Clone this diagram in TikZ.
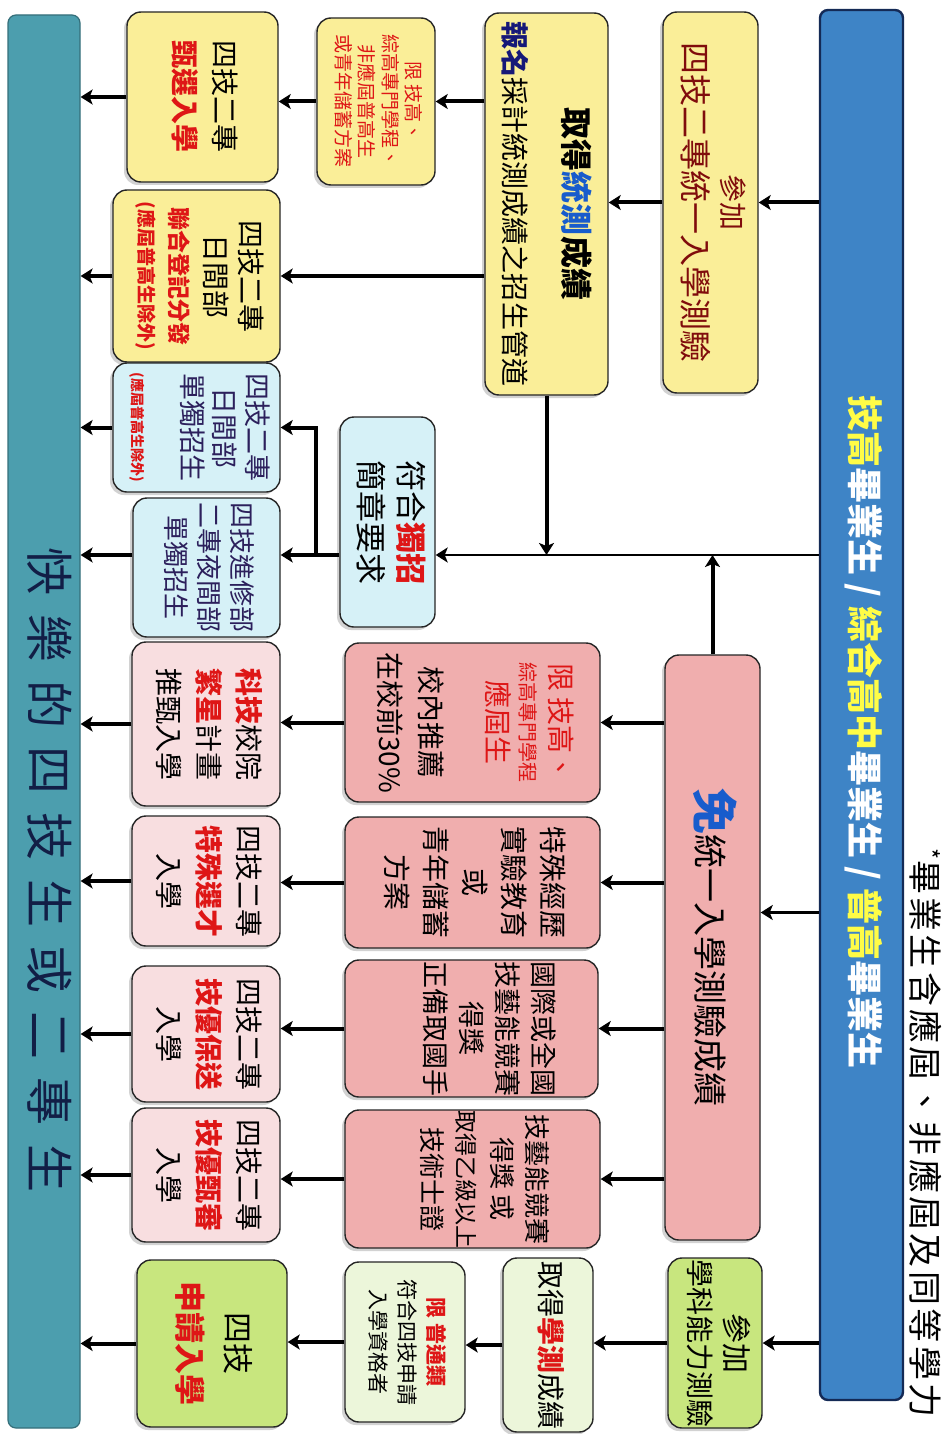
\documentclass[tikz,border=0pt]{standalone}
\usepackage{fontspec}
\setmainfont{Noto Sans CJK TC}
\usepackage{graphicx}
\usetikzlibrary{arrows.meta,shadows}

\definecolor{barblue}{RGB}{62,132,198}
\definecolor{barteal}{RGB}{76,158,174}
\definecolor{boxyellow}{RGB}{250,238,152}
\definecolor{boxcyan}{RGB}{214,241,247}
\definecolor{boxpink}{RGB}{240,174,174}
\definecolor{boxrose}{RGB}{248,222,224}
\definecolor{boxgreen}{RGB}{200,230,126}
\definecolor{boxmint}{RGB}{236,246,218}
\definecolor{txtred}{RGB}{222,22,22}
\definecolor{txtdark}{RGB}{128,12,12}
\definecolor{txtnavy}{RGB}{22,24,120}
\definecolor{txtplum}{RGB}{44,32,92}
\definecolor{txtyel}{RGB}{255,252,70}
\definecolor{txtblue}{RGB}{24,92,204}

% vertical (rotated) text block
\newcommand\vt[1]{\rotatebox[origin=c]{-90}{\begin{tabular}{@{}c@{}}#1\end{tabular}}}
\newcommand\fs[2]{\fontsize{#1}{#2}\selectfont}
\newcommand\rd[1]{\textcolor{txtred}{\bfseries #1}}

\begin{document}
\begin{tikzpicture}[x=1pt, y=-1pt,
  box/.style={draw=black!85, line width=1.4pt, rounded corners=14pt, inner sep=0pt,
    drop shadow={shadow xshift=-3pt, shadow yshift=-3pt, fill=black!35}},
  ybox/.style={box, fill=boxyellow},
  cbox/.style={box, fill=boxcyan, text=txtplum},
  pbox/.style={box, fill=boxpink},
  rbox/.style={box, fill=boxrose},
  gbox/.style={box, fill=boxgreen},
  mbox/.style={box, fill=boxmint},
  arr/.style={line width=4pt, -{Stealth[length=12pt, width=15pt, inset=3pt]}},
  thinarr/.style={arr, line width=2.6pt}]

\fill[white] (0,0) rectangle (946,1434);
\useasboundingbox (0,0) rectangle (946,1434);

% the two long bars
\node[draw={rgb,255:red,20;green,42;blue,86}, line width=2.4pt, fill=barblue,
  rounded corners=8pt, minimum width=83pt, minimum height=1390pt] (grads) at (861.5,705) {};
\node[text=white, font=\fs{36}{36}\bfseries] (gradstext) at (862,732)
  {\vt{\textcolor{txtyel}{技高}畢業生 / \textcolor{txtyel}{綜合高中}畢業生 / \textcolor{txtyel}{普高}畢業生}};
\node[font=\fs{34}{34}] (note) at (922,1133)
  {\vt{\addfontfeature{LetterSpace=10}\textsuperscript{*}畢業生含應屆、非應屆及同等學力}};

\node[draw=barteal!70!black, line width=1.2pt, fill=barteal, rounded corners=8pt,
  minimum width=72pt, minimum height=1413pt] (happy) at (44,721.5) {};
\node[text={rgb,255:red,18;green,30;blue,70}, font=\fs{48}{48}] (happytext) at (45,870)
  {\vt{\addfontfeature{LetterSpace=38}快樂的四技生或二專生}};

% unified exam route
\node[ybox, text=txtdark, font=\fs{32}{38}, minimum width=95pt, minimum height=381pt] (exam) at (710.5,202.5)
  {\vt{{\fs{28}{38}參加}\\ 四技二專統一入學測驗}};
\node[ybox, font=\fs{28}{60}, minimum width=123pt, minimum height=382pt] (score) at (546.5,204)
  {\vt{{\fs{32}{60}\bfseries 取得\textcolor{txtblue}{統測}成績}\\ \textcolor{txtnavy}{\bfseries 報名}採計統測成績之招生管道}};
\node[ybox, text=txtred, font=\fs{19}{23}, minimum width=118pt, minimum height=167pt] (limit) at (376,101.5)
  {\vt{限\ 技高、\\ 綜高專門學程、\\ 非應屆普高生\\ 或青年儲蓄方案}};
\node[ybox, font=\fs{28}{40}, minimum width=151pt, minimum height=170pt] (select) at (202.5,97)
  {\vt{四技二專\\ \rd{甄選入學}}};
\node[ybox, font=\fs{28}{35}, minimum width=167pt, minimum height=172pt] (dist) at (196.5,276)
  {\vt{四技二專\\ 日間部\\ \rd{\fs{23}{30}聯合登記分發}\\[-4pt] \rd{\fs{19}{26}(應屆普高生除外)}}};

% independent admission
\node[cbox, text=black, font=\fs{31}{40}, minimum width=95pt, minimum height=210pt] (indep) at (387.5,522)
  {\vt{符合\rd{獨招}\\ 簡章要求}};
\node[cbox, font=\fs{27}{32}, minimum width=167pt, minimum height=129pt] (dayind) at (196.5,427.5)
  {\vt{四技二專\\ 日間部\\ 單獨招生\\[18pt] \rd{\fs{14}{16}(應屆普高生除外)}}};
\node[cbox, font=\fs{26}{33}, minimum width=147pt, minimum height=139pt] (nightind) at (206.5,567.5)
  {\vt{四技進修部\\ 二專夜間部\\ 單獨招生}};

% routes without the unified exam
\node[pbox, font=\fs{34}{34}, minimum width=95pt, minimum height=585pt] (free) at (712.5,947.5)
  {\vt{\textcolor{txtblue}{\fs{46}{46}\bfseries 免}統一入學測驗成績}};
\node[pbox, font=\fs{28}{30}, minimum width=255pt, minimum height=159pt] (rec) at (472.5,722.5)
  {\vt{\textcolor{txtred}{限\ 技高、}\\ \textcolor{txtred}{\fs{20}{24}綜高專門學程}\\ \textcolor{txtred}{應屆生}\\[34pt] 校內推薦\\[8pt] 在校前30\%}};
\node[pbox, font=\fs{28}{39}, minimum width=255pt, minimum height=131pt] (spec) at (472.5,882.5)
  {\vt{特殊經歷\\ 實驗教育\\ 或\\ 青年儲蓄\\ 方案}};
\node[pbox, font=\fs{27}{36}, minimum width=253pt, minimum height=137pt] (comp) at (471.5,1028.5)
  {\vt{國際或全國\\ 技藝能競賽\\ 得獎\\ 正備取國手\\[30pt]}};
\node[pbox, font=\fs{26}{35}, minimum width=255pt, minimum height=138pt] (cert) at (472.5,1179)
  {\vt{技藝能競賽\\ 得獎\ 或\\ {\fs{23}{35}取得乙級以上}\\ 技術士證\\[18pt]}};

\node[rbox, font=\fs{28}{40}, minimum width=148pt, minimum height=164pt] (star) at (206,724)
  {\vt{\rd{科技}校院\\ \rd{繁星}計畫\\ 推甄入學}};
\node[rbox, font=\fs{28}{40}, minimum width=148pt, minimum height=130pt] (talent) at (206,881)
  {\vt{四技二專\\ \rd{特殊選才}\\ 入學}};
\node[rbox, font=\fs{28}{40}, minimum width=148pt, minimum height=136pt] (sendin) at (206,1034)
  {\vt{四技二專\\ \rd{技優保送}\\ 入學}};
\node[rbox, font=\fs{28}{40}, minimum width=148pt, minimum height=134pt] (screen) at (206,1175)
  {\vt{四技二專\\ \rd{技優甄審}\\ 入學}};

% subject ability test route
\node[gbox, font=\fs{28}{36}, minimum width=94pt, minimum height=170pt] (gsat) at (715,1343)
  {\vt{{\fs{30}{36}參加}\\ 學科能力測驗}};
\node[mbox, font=\fs{28}{36}, minimum width=90pt, minimum height=174pt] (gscore) at (548,1345)
  {\vt{取得\rd{學測}成績}};
\node[mbox, font=\fs{21}{29}, minimum width=120pt, minimum height=160pt] (gen) at (405,1342)
  {\vt{\rd{限\ 普通類}\\ 符合四技申請\\ 入學資格者}};
\node[gbox, font=\fs{31}{48}, minimum width=150pt, minimum height=167pt] (apply) at (212,1343.5)
  {\vt{四技\\ \rd{申請入學}}};

\coordinate (bus) at (0,555);
\coordinate (freein) at ([yshift=35pt]free.east);

% connectors
\draw[arr] (grads.west |- exam.east) -- (exam.east);
\draw[arr] (exam.west) -- (exam.west -| score.east);
\draw[arr] (score.west |- limit.east) -- (limit.east);
\draw[arr] (limit.west) -- (limit.west -| select.east);
\draw[arr] (score.west |- dist.east) -- (dist.east);
\draw[arr] (select.west) -- (select.west -| happy.east);
\draw[arr] (dist.west) -- (dist.west -| happy.east);

\draw[thinarr] (grads.west |- bus) -- (indep.east |- bus);
\draw[arr] (score.south) -- (score.south |- bus);
\draw[arr] (free.north) -- (free.north |- bus);
\draw[arr] (indep.west |- bus) -- (nightind.east |- bus);
\draw[arr] ([xshift=-23pt]indep.west |- bus) |- (dayind.east);
\draw[arr] (dayind.west) -- (dayind.west -| happy.east);
\draw[arr] (nightind.west |- bus) -- (happy.east |- bus);

\draw[thinarr] (grads.west |- freein) -- (freein);
\foreach \a/\b in {rec/star, spec/talent, comp/sendin, cert/screen}
{
  \draw[arr] (free.west |- \a.east) -- (\a.east);
  \draw[arr] (\a.west) -- (\a.west -| \b.east);
  \draw[arr] (\b.west) -- (\b.west -| happy.east);
}

\draw[arr] (grads.west |- gsat.east) -- (gsat.east);
\draw[arr] (gsat.west) -- (gsat.west -| gscore.east);
\draw[arr] (gscore.west) -- (gscore.west -| gen.east);
\draw[arr] (gen.west) -- (gen.west -| apply.east);
\draw[arr] (apply.west) -- (apply.west -| happy.east);
\end{tikzpicture}
\end{document}
